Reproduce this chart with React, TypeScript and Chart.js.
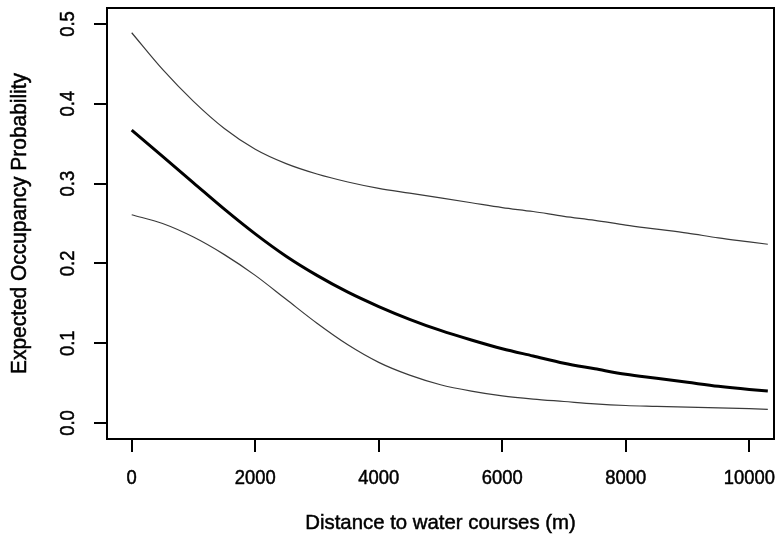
import React, { useEffect, useRef } from 'react';
import { Chart, registerables } from 'chart.js';

Chart.register(...registerables);

const distance = [0, 500, 1000, 1500, 2000, 2500, 3000, 3500, 4000, 4500, 5000, 5500, 6000, 6500, 7000, 7500, 8000, 8500, 9000, 9500, 10000, 10300];
const fitted = [0.367, 0.334, 0.301, 0.268, 0.237, 0.209, 0.185, 0.164, 0.146, 0.130, 0.116, 0.104, 0.093, 0.084, 0.075, 0.068, 0.061, 0.056, 0.051, 0.046, 0.042, 0.040];
const upper = [0.489, 0.443, 0.403, 0.369, 0.343, 0.325, 0.312, 0.302, 0.294, 0.288, 0.282, 0.276, 0.270, 0.265, 0.259, 0.254, 0.248, 0.243, 0.238, 0.232, 0.227, 0.224];
const lower = [0.261, 0.250, 0.233, 0.211, 0.185, 0.155, 0.125, 0.098, 0.076, 0.060, 0.048, 0.040, 0.034, 0.030, 0.027, 0.024, 0.022, 0.021, 0.020, 0.019, 0.018, 0.017];
const xTicks = [0, 2000, 4000, 6000, 8000, 10000];
const yTicks = [0, 0.1, 0.2, 0.3, 0.4, 0.5];
const xTitle = 'Distance to water courses (m)';
const yTitle = 'Expected Occupancy Probability';

const FONT = '"Liberation Sans", Arial, sans-serif';

const pts = (ys: number[]) => distance.map((x, i) => ({ x, y: ys[i] }));

function drawText(ctx: CanvasRenderingContext2D, text: string, x: number, y: number, size: number, sx: number, rot: number) {
  ctx.save();
  ctx.translate(x, y);
  ctx.rotate(rot);
  ctx.scale(sx, 1);
  ctx.font = `${size}px ${FONT}`;
  ctx.textAlign = 'center';
  ctx.textBaseline = 'middle';
  ctx.fillStyle = '#000';
  ctx.strokeStyle = '#000';
  ctx.lineWidth = 0.5;
  ctx.fillText(text, 0, 0);
  ctx.strokeText(text, 0, 0);
  ctx.restore();
}

const rPlot = {
  id: 'rPlot',
  afterDraw(chart: any) {
    const { ctx, chartArea } = chart;
    const { left, top, right, bottom } = chartArea;
    const xs = chart.scales.x;
    const ys = chart.scales.y;
    ctx.save();
    ctx.strokeStyle = '#000';
    ctx.lineWidth = 2;
    ctx.strokeRect(left, top, right - left, bottom - top);
    ctx.restore();
    xTicks.forEach((v) => drawText(ctx, String(v), xs.getPixelForValue(v), 478, 20, 0.92, 0));
    yTicks.forEach((v) => drawText(ctx, v.toFixed(1), 68, ys.getPixelForValue(v), 20, 0.92, -Math.PI / 2));
    drawText(ctx, xTitle, (left + right) / 2, 523, 21, 0.97, 0);
    drawText(ctx, yTitle, 20, (top + bottom) / 2, 22, 0.95, -Math.PI / 2);
  },
};

export default function App() {
  const ref = useRef<HTMLCanvasElement | null>(null);
  useEffect(() => {
    document.body.style.margin = '0';
    const canvas = ref.current!;
    const chart = new Chart(canvas, {
      type: 'line',
      data: {
        datasets: [
          { data: pts(upper), borderColor: '#3a3a3a', borderWidth: 1.2, pointRadius: 0, cubicInterpolationMode: 'monotone' },
          { data: pts(fitted), borderColor: '#000', borderWidth: 3, pointRadius: 0, cubicInterpolationMode: 'monotone' },
          { data: pts(lower), borderColor: '#3a3a3a', borderWidth: 1.2, pointRadius: 0, cubicInterpolationMode: 'monotone' },
        ],
      },
      options: {
        animation: false,
        responsive: false,
        maintainAspectRatio: false,
        events: [],
        layout: { padding: { top: 8, right: 7, left: 0, bottom: 0 } },
        plugins: { legend: { display: false }, tooltip: { enabled: false }, title: { display: false } },
        scales: {
          x: {
            type: 'linear',
            min: -400,
            max: 10400,
            afterBuildTicks: (s: any) => { s.ticks = xTicks.map((value) => ({ value })); },
            afterFit: (s: any) => { s.height = 105; },
            ticks: { display: false },
            grid: { display: true, drawOnChartArea: false, drawTicks: true, tickLength: 13, lineWidth: 2, color: '#000' },
            border: { display: false },
          },
          y: {
            type: 'linear',
            min: -0.02,
            max: 0.52,
            afterBuildTicks: (s: any) => { s.ticks = yTicks.map((value) => ({ value })); },
            afterFit: (s: any) => { s.width = 107; },
            ticks: { display: false },
            grid: { display: true, drawOnChartArea: false, drawTicks: true, tickLength: 13, lineWidth: 2, color: '#000' },
            border: { display: false },
          },
        },
      },
      plugins: [rPlot],
    });
    return () => chart.destroy();
  }, []);
  return <canvas ref={ref} width={781} height={544} style={{ display: 'block' }} />;
}
